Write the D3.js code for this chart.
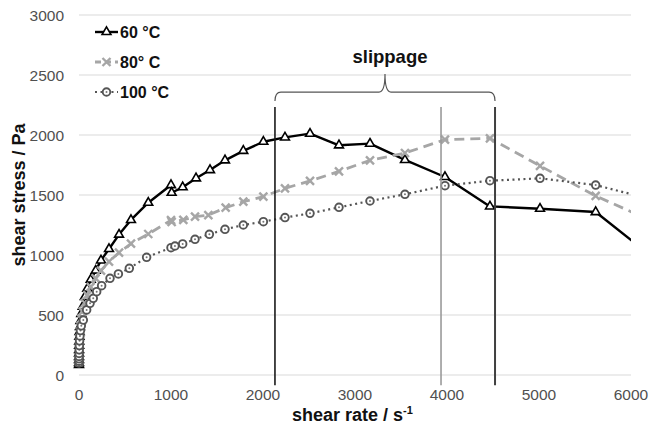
<!DOCTYPE html>
<html>
<head>
<meta charset="utf-8">
<script src="https://cdn.jsdelivr.net/npm/d3@7"></script>
<style>
  body { margin: 0; background: #fff; }
  svg { font-family: "Liberation Sans", Arial, sans-serif; }
</style>
</head>
<body>
<svg id="chart" width="651" height="427"></svg>
<script>
// data
const xTicks = [0, 1000, 2000, 3000, 4000, 5000, 6000];
const yTicks = [0, 500, 1000, 1500, 2000, 2500, 3000];

const rate60 = [0.1, 0.16, 0.25, 0.4, 0.63, 1, 1.6, 2.5, 4, 6.3, 10, 16, 25, 40, 63, 90, 127, 181, 239, 326, 435, 565, 753, 1000,
  1007, 1127, 1272, 1424, 1587, 1786, 2004, 2239, 2511, 2826, 3163, 3543, 3978, 4467, 5011, 5616, 6290];
const stress60 = [85, 100, 125, 150, 180, 210, 245, 280, 320, 360, 400, 450, 510, 570, 650, 720, 795, 870, 955, 1050, 1170, 1292, 1436, 1583,
  1519, 1565, 1639, 1708, 1789, 1868, 1944, 1980, 2011, 1914, 1928, 1792, 1650, 1405, 1386, 1358, 950];

const rate80 = [0.25, 0.4, 0.63, 1, 1.6, 2.5, 4, 6.3, 10, 16, 25, 40, 63, 90, 127, 181, 239, 326, 435, 565, 753, 1000,
  1007, 1134, 1261, 1406, 1594, 1786, 2004, 2239, 2511, 2826, 3163, 3543, 3978, 4467, 5011, 5616, 6290];
const stress80 = [110, 125, 145, 170, 200, 235, 270, 310, 360, 410, 470, 530, 600, 665, 735, 805, 870, 945, 1020, 1095, 1175, 1290,
  1275, 1292, 1319, 1333, 1394, 1444, 1486, 1556, 1617, 1697, 1789, 1850, 1961, 1972, 1743, 1492, 1262];

const rate100 = [0.25, 0.4, 0.63, 1, 1.6, 2.5, 4, 6.3, 10, 16, 25, 47, 83, 120, 155, 192, 246, 337, 428, 547, 735, 1000,
  1043, 1127, 1261, 1417, 1587, 1786, 2004, 2239, 2511, 2826, 3163, 3543, 3978, 4467, 5011, 5616, 6290];
const stress100 = [100, 115, 135, 155, 180, 210, 245, 285, 325, 370, 410, 458, 542, 597, 639, 694, 744, 806, 842, 889, 981, 1061,
  1075, 1092, 1131, 1172, 1214, 1250, 1278, 1312, 1347, 1397, 1450, 1506, 1578, 1619, 1639, 1583, 1451];

const seriesNames = ['60 °C', '80° C', '100 °C'];
const slippageRates = [2130, 3935, 4522];
const slippageTop = 2233, slippageBottom = -85;
const braceLevel = 2358, braceTip = 2508, labelLevel = 2596;

const svg = d3.select('#chart');
const x = d3.scaleLinear().domain([0, 6000]).range([79, 631]);
const y = d3.scaleLinear().domain([0, 3000]).range([375, 15]);

// gridlines
svg.append('g').selectAll('line').data(yTicks).join('line')
  .attr('x1', x(0)).attr('x2', x(6000))
  .attr('y1', d => y(d)).attr('y2', d => y(d))
  .attr('stroke', '#d9d9d9').attr('stroke-width', 1);

// tick labels
svg.append('g').selectAll('text').data(yTicks).join('text')
  .attr('x', 64).attr('y', d => y(d) + 5.5)
  .attr('text-anchor', 'end').attr('font-size', 15.5).attr('fill', '#505050')
  .text(d => d);
svg.append('g').selectAll('text').data(xTicks).join('text')
  .attr('x', d => x(d)).attr('y', 400)
  .attr('text-anchor', 'middle').attr('font-size', 15.5).attr('fill', '#505050')
  .text(d => d);

// axis titles
svg.append('text')
  .attr('transform', `translate(25, 195) rotate(-90)`)
  .attr('text-anchor', 'middle').attr('font-size', 18).attr('font-weight', 'bold').attr('fill', '#111')
  .text('shear stress / Pa');
const xt = svg.append('text')
  .attr('x', 292).attr('y', 421)
  .attr('font-size', 18).attr('font-weight', 'bold').attr('fill', '#111');
xt.append('tspan').text('shear rate / s');
xt.append('tspan').attr('font-size', 11).attr('dy', -7).text('-1');

svg.append('defs').append('clipPath').attr('id', 'plotclip')
  .append('rect').attr('x', x(0) - 10).attr('y', 0).attr('width', x(6000) - x(0) + 10).attr('height', 427);

const plot = svg.append('g').attr('clip-path', 'url(#plotclip)');

const line = d3.line().x(d => x(d[0])).y(d => y(d[1]));
const pts60 = rate60.map((r, i) => [r, stress60[i]]);
const pts80 = rate80.map((r, i) => [r, stress80[i]]);
const pts100 = rate100.map((r, i) => [r, stress100[i]]);

const tri = d3.symbol(d3.symbolTriangle, 34)();
const cross = 'M-4,-4L4,4M4,-4L-4,4';

const styles = [
  {color: '#000', width: 2.4, dash: null},
  {color: '#a6a6a6', width: 2.8, dash: '10,6'},
  {color: '#555', width: 2.2, dash: '2,3.5'}
];

const drawMarker = (g, i, px, py) => {
  if (i === 0) {
    g.append('path').attr('d', tri).attr('transform', `translate(${px},${py})`)
      .attr('fill', '#fff').attr('stroke', '#000').attr('stroke-width', 1.6);
  } else if (i === 1) {
    g.append('path').attr('d', cross).attr('transform', `translate(${px},${py})`)
      .attr('fill', 'none').attr('stroke', '#a6a6a6').attr('stroke-width', 2.4);
  } else {
    g.append('circle').attr('cx', px).attr('cy', py).attr('r', 3.8)
      .attr('fill', '#fff').attr('stroke', '#555').attr('stroke-width', 1.9);
    g.append('circle').attr('cx', px).attr('cy', py).attr('r', 1)
      .attr('fill', '#777');
  }
};

[pts60, pts80, pts100].forEach((pts, i) => {
  const s = styles[i];
  plot.append('path').datum(pts).attr('d', line)
    .attr('fill', 'none').attr('stroke', s.color).attr('stroke-width', s.width)
    .attr('stroke-dasharray', s.dash).attr('stroke-linejoin', 'round');
  const mg = plot.append('g');
  pts.forEach(p => drawMarker(mg, i, x(p[0]), y(p[1])));
});

// slippage markers
const vColors = ['#1a1a1a', '#9a9a9a', '#404040'];
const vWidths = [1.6, 1.6, 2];
svg.append('g').selectAll('line').data(slippageRates).join('line')
  .attr('x1', d => x(d)).attr('x2', d => x(d))
  .attr('y1', y(slippageTop)).attr('y2', y(slippageBottom))
  .attr('stroke', (d, i) => vColors[i]).attr('stroke-width', (d, i) => vWidths[i]);

const bl = x(slippageRates[0]), br = x(slippageRates[2]);
const bm = (bl + br) / 2, by = y(braceLevel), bt = y(braceTip);
svg.append('path')
  .attr('d', `M${bl},${by + 9} Q${bl},${by} ${bl + 6},${by} L${bm - 6},${by} Q${bm},${by} ${bm},${bt}` +
             ` Q${bm},${by} ${bm + 6},${by} L${br - 6},${by} Q${br},${by} ${br},${by + 9}`)
  .attr('fill', 'none').attr('stroke', '#555').attr('stroke-width', 1.2);
svg.append('text')
  .attr('x', bm + 5).attr('y', y(labelLevel))
  .attr('text-anchor', 'middle').attr('font-size', 18.5).attr('font-weight', 'bold').attr('fill', '#111')
  .text('slippage');

// legend
const legend = svg.append('g');
seriesNames.forEach((name, i) => {
  const ly = 32 + i * 30;
  const s = styles[i];
  legend.append('line').attr('x1', 95).attr('x2', 118).attr('y1', ly).attr('y2', ly)
    .attr('stroke', s.color).attr('stroke-width', s.width)
    .attr('stroke-dasharray', i === 1 ? '6,4' : s.dash);
  drawMarker(legend, i, 106.5, ly);
  legend.append('text').attr('x', 120).attr('y', ly + 6)
    .attr('font-size', 16).attr('font-weight', 'bold').attr('fill', '#111')
    .text(name);
});
</script>
</body>
</html>
